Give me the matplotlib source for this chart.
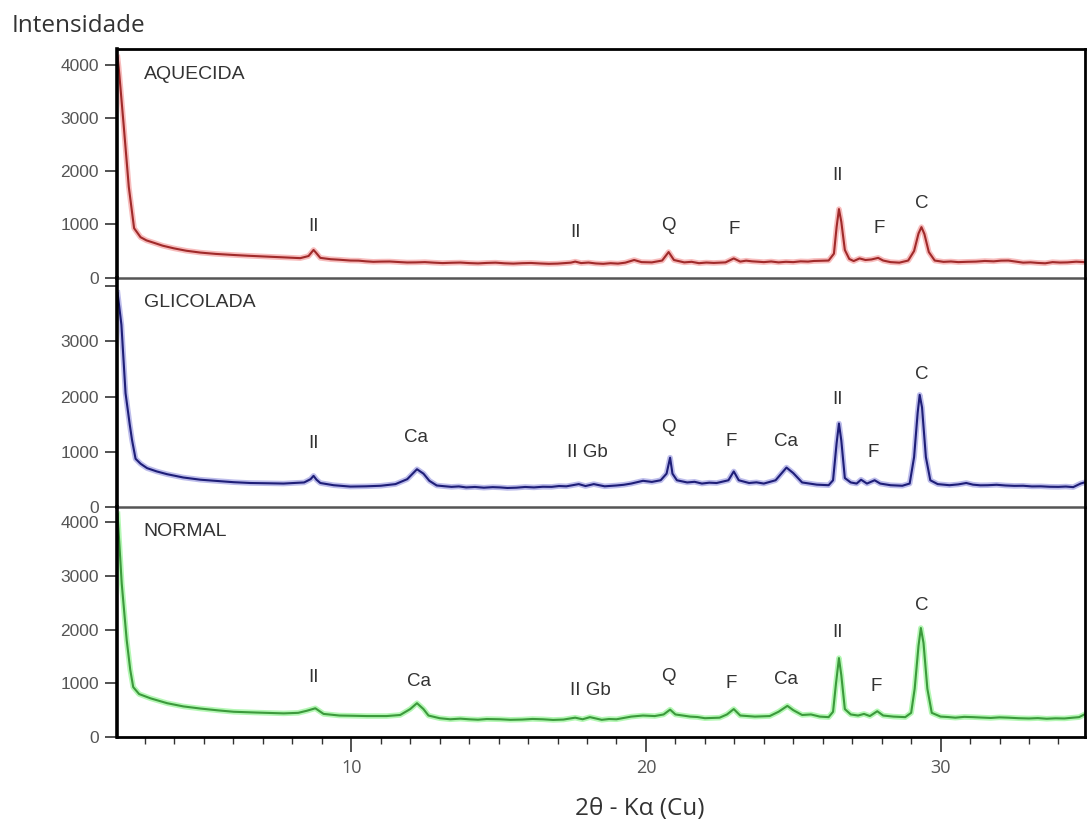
import matplotlib.pyplot as plt

# 2-theta positions and intensities for the three treatments
x_aquecida = [2.07, 2.11, 2.28, 2.45, 2.63, 2.85, 3.05, 3.3, 3.6, 3.98,
              4.4, 4.88, 5.4, 6.0, 6.5, 7.1, 7.7, 8.27, 8.55, 8.72,
              8.8, 8.95, 9.3, 9.6, 9.97, 10.25, 10.5, 10.75, 11.0, 11.3,
              11.66, 11.9, 12.2, 12.5, 12.8, 13.1, 13.4, 13.7, 14.0, 14.3,
              14.6, 14.9, 15.2, 15.5, 15.8, 16.1, 16.4, 16.7, 17.0, 17.45,
              17.6, 17.8, 18.05, 18.3, 18.55, 18.8, 19.05, 19.3, 19.6, 19.85,
              20.2, 20.55, 20.77, 20.95, 21.3, 21.55, 21.8, 22.05, 22.3, 22.7,
              22.98, 23.2, 23.4, 23.6, 23.8, 24.0, 24.25, 24.5, 24.75, 25.0,
              25.25, 25.5, 25.7, 25.9, 26.2, 26.38, 26.47, 26.55, 26.63, 26.75,
              26.9, 27.05, 27.25, 27.45, 27.65, 27.88, 28.05, 28.3, 28.6, 28.9,
              29.1, 29.25, 29.35, 29.45, 29.6, 29.8, 30.1, 30.35, 30.6, 30.9,
              31.2, 31.5, 31.8, 32.05, 32.3, 32.55, 32.8, 33.05, 33.3, 33.55,
              33.8, 34.05, 34.3, 34.6, 34.88]
y_aquecida = [4150, 3950, 2850, 1710, 930, 760, 700, 655, 600, 550,
              505, 470, 445, 425, 410, 395, 380, 365, 405, 520,
              470, 370, 345, 335, 320, 318, 305, 296, 300, 302,
              290, 283, 285, 290, 280, 272, 278, 282, 272, 266,
              275, 280, 268, 262, 270, 274, 265, 258, 262, 280,
              300, 272, 282, 265, 258, 270, 262, 280, 330, 290,
              285, 320, 480, 330, 285, 296, 270, 282, 275, 285,
              360, 300, 318, 305, 298, 290, 302, 285, 296, 290,
              305, 300, 312, 315, 320, 450, 950, 1290, 1050, 520,
              350, 310, 360, 330, 340, 370, 320, 290, 280, 320,
              500, 830, 950, 820, 480, 320, 295, 302, 290, 296,
              300, 312, 305, 318, 320, 300, 280, 286, 275, 268,
              290, 282, 285, 298, 290]

x_glicolada = [2.07, 2.2, 2.34, 2.48, 2.56, 2.68, 2.85, 3.07, 3.4, 3.75,
               4.3, 4.88, 5.5, 6.0, 6.58, 7.2, 7.7, 8.04, 8.4, 8.62,
               8.72, 8.82, 8.95, 9.4, 9.97, 10.5, 11.0, 11.5, 11.9, 12.23,
               12.45, 12.65, 12.9, 13.15, 13.4, 13.65, 13.9, 14.2, 14.5, 14.8,
               15.05, 15.3, 15.6, 15.9, 16.2, 16.5, 16.8, 17.05, 17.3, 17.72,
               17.95, 18.23, 18.6, 19.0, 19.25, 19.5, 19.9, 20.2, 20.5, 20.7,
               20.82, 20.9, 21.05, 21.4, 21.65, 21.9, 22.15, 22.4, 22.8, 22.98,
               23.15, 23.5, 23.75, 24.0, 24.4, 24.77, 25.0, 25.3, 25.55, 25.8,
               26.2, 26.35, 26.47, 26.55, 26.63, 26.75, 26.95, 27.15, 27.3, 27.5,
               27.76, 27.95, 28.3, 28.7, 28.95, 29.1, 29.22, 29.29, 29.37, 29.5,
               29.65, 29.9, 30.3, 30.6, 30.87, 31.1, 31.35, 31.6, 31.9, 32.2,
               32.5, 32.8, 33.1, 33.4, 33.7, 34.0, 34.25, 34.5, 34.75, 34.88]
y_glicolada = [3880, 3300, 2060, 1500, 1210, 870, 780, 700, 640, 590,
               530, 490, 465, 445, 430, 425, 420, 430, 440, 500,
               560, 490, 430, 390, 365, 370, 380, 410, 500, 680,
               600, 470, 385, 372, 360, 368, 350, 358, 345, 355,
               350, 340, 345, 358, 350, 362, 360, 375, 370, 410,
               375, 410, 370, 385, 398, 420, 470, 450, 480, 600,
               890, 600, 480, 440, 452, 420, 436, 430, 480, 640,
               480, 430, 442, 420, 480, 710, 610, 440, 420, 400,
               390, 480, 1150, 1510, 1200, 520, 440, 420, 490, 420,
               480, 420, 390, 380, 420, 900, 1700, 2030, 1800, 900,
               480, 410, 390, 405, 430, 400, 388, 390, 398, 385,
               378, 380, 368, 370, 362, 360, 366, 355, 420, 440]

x_normal = [2.07, 2.21, 2.38, 2.5, 2.6, 2.8, 3.19, 3.75, 4.3, 4.88,
            5.5, 6.01, 6.8, 7.71, 8.2, 8.5, 8.78, 9.06, 9.6, 10.1,
            10.53, 11.2, 11.66, 12.0, 12.23, 12.45, 12.62, 13.0, 13.36, 13.7,
            14.0, 14.3, 14.6, 15.05, 15.4, 15.8, 16.15, 16.5, 16.85, 17.2,
            17.6, 17.85, 18.1, 18.5, 18.75, 19.0, 19.5, 19.9, 20.3, 20.6,
            20.82, 21.0, 21.5, 21.75, 22.0, 22.5, 22.75, 22.98, 23.2, 23.7,
            24.2, 24.5, 24.8, 25.0, 25.3, 25.6, 25.9, 26.2, 26.35, 26.45,
            26.55, 26.63, 26.75, 26.95, 27.2, 27.4, 27.6, 27.85, 28.05, 28.4,
            28.8, 29.0, 29.12, 29.25, 29.33, 29.42, 29.55, 29.7, 30.0, 30.25,
            30.5, 30.8, 31.1, 31.4, 31.7, 32.0, 32.3, 32.65, 33.0, 33.3,
            33.6, 33.9, 34.2, 34.45, 34.7, 34.88]
y_normal = [4150, 2860, 1800, 1250, 930, 800, 720, 630, 570, 530,
            495, 470, 455, 440, 450, 490, 535, 430, 400, 395,
            390, 390, 410, 520, 630, 520, 400, 350, 330, 342,
            330, 322, 335, 330, 320, 325, 336, 330, 318, 325,
            360, 330, 370, 320, 335, 330, 380, 400, 390, 420,
            510, 420, 380, 372, 350, 360, 420, 520, 400, 380,
            390, 470, 580, 500, 410, 420, 380, 370, 470, 1000,
            1470, 1150, 520, 420, 400, 430, 390, 480, 400, 380,
            370, 450, 900, 1700, 2030, 1750, 900, 450, 380, 372,
            360, 375, 370, 362, 355, 366, 360, 350, 345, 352,
            340, 348, 345, 358, 370, 420]

# peak annotations: (label, 2-theta, height of text)
labels_aquecida = [('II', 8.72, 970), ('II', 17.6, 840), ('Q', 20.75, 990), ('F', 23.0, 900),
                   ('II', 26.5, 1920), ('F', 27.9, 920), ('C', 29.35, 1390)]
labels_glicolada = [('II', 8.72, 1140), ('Ca', 12.2, 1250), ('II Gb', 18.0, 980),
                    ('Q', 20.75, 1430), ('F', 22.9, 1180), ('Ca', 24.75, 1180),
                    ('II', 26.5, 1940), ('F', 27.7, 980), ('C', 29.35, 2400)]
labels_normal = [('II', 8.72, 1100), ('Ca', 12.3, 1040), ('II Gb', 18.1, 870),
                 ('Q', 20.75, 1120), ('F', 22.9, 990), ('Ca', 24.75, 1080),
                 ('II', 26.5, 1950), ('F', 27.8, 950), ('C', 29.35, 2450)]

panels = [
    ('AQUECIDA', x_aquecida, y_aquecida, labels_aquecida, '#a02a2a', '#f07a7a', 4310, 3820),
    ('GLICOLADA', x_glicolada, y_glicolada, labels_glicolada, '#1e1e78', '#7c7cd8', 4160, 3700),
    ('NORMAL', x_normal, y_normal, labels_normal, '#3c9a3c', '#6af06a', 4290, 3820),
]

W, H = 1088, 827
fig = plt.figure(figsize=(W / 100, H / 100), dpi=100)

left, right = 117, 1085
edges = [49, 277.5, 506.7, 737]
text_color = '#333333'
sep_color = '#555555'

axes = []
for i, (name, xs, ys, labels, core, halo, ytop, name_y) in enumerate(panels):
    assert len(xs) == len(ys), name
    top_px, bot_px = edges[i], edges[i + 1]
    ax = fig.add_axes([left / W, (H - bot_px) / H, (right - left) / W, (bot_px - top_px) / H])
    axes.append(ax)

    ax.plot(xs, ys, color=halo, linewidth=4.0, alpha=0.5, solid_joinstyle='round')
    ax.plot(xs, ys, color=core, linewidth=1.5, solid_joinstyle='round')

    ax.set_xlim(2.05, 34.9)
    ax.set_ylim(0, ytop)

    ax.text(2.95, name_y, name, ha='left', va='center', fontsize=14,
            family='Liberation Sans', color=text_color)
    for lab, lx, ly in labels:
        ax.text(lx, ly, lab, ha='center', va='center', fontsize=13.5,
                family='Liberation Sans', color=text_color)

    ax.set_yticks([0, 1000, 2000, 3000, 4000])
    if name == 'GLICOLADA':
        ax.set_yticklabels(['0', '1000', '2000', '3000', ''])
    else:
        ax.set_yticklabels(['0', '1000', '2000', '3000', '4000'])
    ax.tick_params(axis='y', direction='out', length=9, width=1.2, pad=4,
                   labelsize=12.5, labelcolor='#555555', color='#333333')
    for lbl in ax.get_yticklabels():
        lbl.set_family('Liberation Sans')

    ax.spines['left'].set_linewidth(2.6)
    ax.spines['left'].set_color('black')
    ax.spines['right'].set_linewidth(2.0)
    ax.spines['right'].set_color('black')
    ax.spines['top'].set_visible(i == 0)
    ax.spines['top'].set_linewidth(2.0)
    ax.spines['top'].set_color('black')
    if i < 2:
        ax.spines['bottom'].set_color(sep_color)
        ax.spines['bottom'].set_linewidth(1.8)
        ax.set_xticks([])
    else:
        ax.spines['bottom'].set_color('black')
        ax.spines['bottom'].set_linewidth(2.0)
    ax.patch.set_alpha(0)

bottom_ax = axes[-1]
bottom_ax.set_xticks([10, 20, 30])
bottom_ax.set_xticks(list(range(3, 35)), minor=True)
bottom_ax.tick_params(axis='x', which='major', direction='out', length=11, width=1.2,
                      pad=5, labelsize=13, labelcolor='#555555', color='#333333')
bottom_ax.tick_params(axis='x', which='minor', direction='out', length=5, width=1.0,
                      color='#333333')
for lbl in bottom_ax.get_xticklabels():
    lbl.set_family('Open Sans')

fig.text(12 / W, 1 - 32 / H, 'Intensidade', ha='left', va='baseline', fontsize=17.5,
         family='Open Sans', color='#333333')
fig.text(640 / W, 1 - 809 / H, '2θ - Kα (Cu)', ha='center', va='center', fontsize=17.5,
         family='Open Sans', color='#333333')

fig.savefig('out.png', dpi=100)
